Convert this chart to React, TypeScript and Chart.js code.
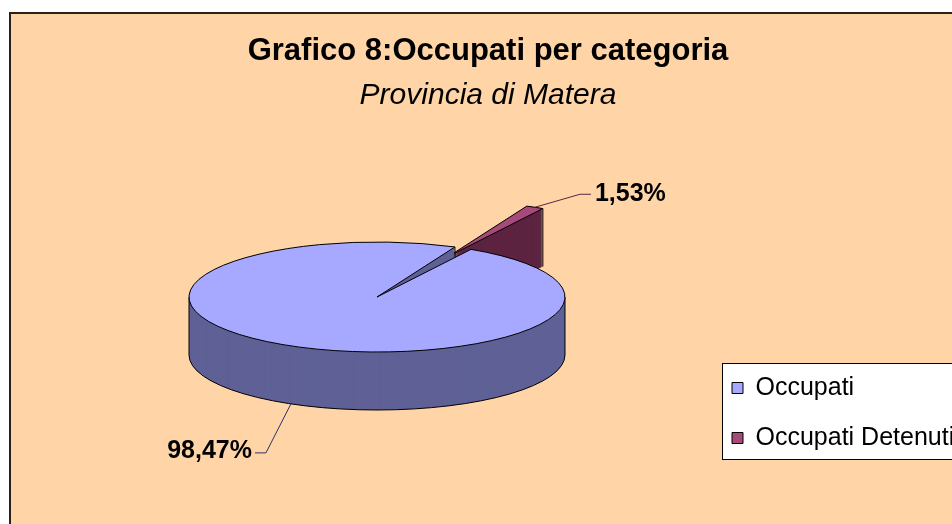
import React, { useEffect, useRef } from "react";
import { Chart, registerables } from "chart.js";

Chart.register(...registerables);

// ---- data ----
const categories = ["Occupati", "Occupati Detenuti"];
const values = [98.47, 1.53];
const topColors = ["#A6A9FF", "#A54A7B"];
const sideColors = ["#5F6196", "#5D2441"];
const leaderColors = ["#2E3163", "#5D2441"];
const chartTitle = "Grafico 8:Occupati per categoria";
const chartSubtitle = "Provincia di Matera";

// ---- style / layout ----
const FONT = "'Liberation Sans', Arial, Helvetica, sans-serif";
const PEACH = "#FFD5A8";
const FRAME = { x: 10, y: 13, color: "#2C2018", width: 2 };
const PIE = { cx: 377, cy: 297, rx: 188, ry: 55, depth: 58, rotation: 30 };
const EXPLODE = [0, 0.835];
const LABEL_LAYOUT = [
  { dx: -25, dy: 49, tail: -11, gap: 3, textDy: -2 },
  { dx: 45, dy: -13, tail: 11, gap: 4, textDy: 0 },
];
const LEGEND_BOX = { x: 722.5, y: 363.5, h: 96 };
const LEGEND_POS = { left: 707, top: 350.5 };

function geom(arc: any, i: number) {
  const p = arc.getProps(["x", "y", "startAngle", "endAngle", "outerRadius"], true);
  const mid = (p.startAngle + p.endAngle) / 2;
  const e = EXPLODE[i] || 0;
  const cx = PIE.cx + Math.cos(mid) * e * PIE.rx;
  const cy = PIE.cy + Math.sin(mid) * e * PIE.ry;
  return { ...p, mid, cx, cy };
}

function pt(g: any, a: number, dy = 0) {
  return [g.cx + Math.cos(a) * PIE.rx, g.cy + Math.sin(a) * PIE.ry + dy];
}

const pie3d = {
  id: "pie3d",
  beforeDraw(chart: any) {
    const ctx = chart.ctx;
    const W = chart.width;
    const H = chart.height;
    ctx.save();
    ctx.fillStyle = "#ffffff";
    ctx.fillRect(0, 0, W, H);
    ctx.fillStyle = PEACH;
    ctx.fillRect(FRAME.x, FRAME.y, W + 50, H + 50);
    ctx.strokeStyle = FRAME.color;
    ctx.lineWidth = FRAME.width;
    ctx.strokeRect(FRAME.x, FRAME.y, W + 50, H + 50);
    ctx.fillStyle = "#ffffff";
    ctx.fillRect(LEGEND_BOX.x, LEGEND_BOX.y, W, LEGEND_BOX.h);
    ctx.strokeStyle = "#000000";
    ctx.lineWidth = 1;
    ctx.strokeRect(LEGEND_BOX.x, LEGEND_BOX.y, W, LEGEND_BOX.h);
    ctx.restore();
    const lg = chart.legend;
    if (lg) {
      lg.left = LEGEND_POS.left;
      lg.top = LEGEND_POS.top;
      lg.right = W + 400;
      lg.bottom = H;
      lg.width = lg.right - lg.left;
      lg.height = lg.bottom - lg.top;
    }
  },
  beforeDatasetDraw(chart: any) {
    const ctx = chart.ctx;
    const arcs = chart.getDatasetMeta(0).data;
    const gs = arcs.map((a: any, i: number) => geom(a, i));
    const order = gs.map((_: any, i: number) => i).sort((a: number, b: number) => {
      const ya = gs[a].cy + Math.sin(gs[a].mid) * PIE.ry * 0.5;
      const yb = gs[b].cy + Math.sin(gs[b].mid) * PIE.ry * 0.5;
      return ya - yb;
    });
    for (const i of order) {
      const arc = arcs[i];
      const g = gs[i];
      const R = g.outerRadius || 1;
      const sx = PIE.rx / R;
      const sy = PIE.ry / R;
      const saved = arc.options;
      const paint = (color: string, dy: number) => {
        arc.options = Object.assign({}, saved, {
          backgroundColor: color,
          borderColor: color,
          borderWidth: 0,
          offset: 0,
          spacing: 0,
        });
        ctx.save();
        ctx.translate(g.cx, g.cy + dy);
        ctx.scale(sx, sy);
        ctx.translate(-g.x, -g.y);
        arc.draw(ctx);
        ctx.restore();
      };
      for (let d = PIE.depth; d >= 1; d--) paint(sideColors[i], d);

      // side outlines
      ctx.save();
      ctx.strokeStyle = "#000";
      ctx.lineWidth = 1;
      const s = g.startAngle;
      const e = g.endAngle;
      const TAU = Math.PI * 2;
      for (let k = -1; k <= 1; k++) {
        const a = Math.max(s, TAU * k);
        const b = Math.min(e, TAU * k + Math.PI);
        if (b > a) {
          ctx.beginPath();
          ctx.ellipse(g.cx, g.cy + PIE.depth, PIE.rx, PIE.ry, 0, a, b);
          ctx.stroke();
        }
      }
      const inArc = (ang: number) => {
        for (let k = -1; k <= 2; k++) {
          const v = ang + TAU * k;
          if (v >= s && v <= e) return true;
        }
        return false;
      };
      const vertical = (ang: number) => {
        const [x0, y0] = pt(g, ang);
        ctx.beginPath();
        ctx.moveTo(x0, y0);
        ctx.lineTo(x0, y0 + PIE.depth);
        ctx.stroke();
      };
      for (const ang of [0, Math.PI]) if (inArc(ang)) vertical(ang);
      if (Math.cos(s) < 0) vertical(s);
      if (Math.cos(e) > 0) vertical(e);
      ctx.restore();

      paint(topColors[i], 0);
      arc.options = saved;

      ctx.save();
      ctx.strokeStyle = "#000";
      ctx.lineWidth = 1;
      ctx.beginPath();
      ctx.moveTo(g.cx, g.cy);
      ctx.ellipse(g.cx, g.cy, PIE.rx, PIE.ry, 0, s, e);
      ctx.closePath();
      ctx.stroke();
      ctx.restore();
    }
    return false;
  },
  afterDatasetsDraw(chart: any) {
    const ctx = chart.ctx;
    const arcs = chart.getDatasetMeta(0).data;
    const data = chart.data.datasets[0].data as number[];
    const total = data.reduce((a: number, b: number) => a + b, 0);
    arcs.forEach((arc: any, i: number) => {
      const g = geom(arc, i);
      const lay = LABEL_LAYOUT[i];
      const front = Math.sin(g.mid) > 0;
      const [ax, ay] = pt(g, g.mid, front ? PIE.depth : 0);
      const ex = ax + lay.dx;
      const ey = ay + lay.dy;
      const tx = ex + lay.tail;
      ctx.save();
      ctx.strokeStyle = leaderColors[i];
      ctx.lineWidth = 1;
      ctx.beginPath();
      ctx.moveTo(ax, ay);
      ctx.lineTo(ex, ey);
      ctx.lineTo(tx, ey);
      ctx.stroke();
      const txt = ((data[i] / total) * 100).toFixed(2).replace(".", ",") + "%";
      ctx.fillStyle = "#000";
      ctx.font = `bold 25px ${FONT}`;
      ctx.textBaseline = "middle";
      ctx.textAlign = lay.tail < 0 ? "right" : "left";
      ctx.fillText(txt, tx + (lay.tail < 0 ? -lay.gap : lay.gap), ey + lay.textDy);
      ctx.restore();
    });
  },
};

export default function App() {
  const ref = useRef<HTMLCanvasElement | null>(null);
  useEffect(() => {
    if (!ref.current) return;
    const chart = new Chart(ref.current, {
      type: "pie",
      data: {
        labels: categories,
        datasets: [
          {
            data: values,
            backgroundColor: topColors,
            borderColor: "#000000",
            borderWidth: 1,
          },
        ],
      },
      options: {
        animation: false,
        responsive: true,
        maintainAspectRatio: false,
        events: [],
        rotation: PIE.rotation,
        layout: { padding: { left: 24, top: 0, right: 0, bottom: 0 } },
        plugins: {
          tooltip: { enabled: false },
          title: {
            display: true,
            text: chartTitle,
            color: "#000",
            font: { family: FONT, size: 31, weight: "bold", lineHeight: 1 },
            padding: { top: 36, bottom: 0 },
          },
          subtitle: {
            display: true,
            text: chartSubtitle,
            color: "#000",
            font: { family: FONT, size: 30, style: "italic", lineHeight: 1 },
            padding: { top: 14, bottom: 0 },
          },
          legend: {
            display: true,
            position: "right",
            align: "start",
            labels: {
              color: "#000",
              boxWidth: 11,
              boxHeight: 11,
              padding: 25,
              font: { family: FONT, size: 25 },
            },
          },
        },
      } as any,
      plugins: [pie3d as any],
    });
    return () => chart.destroy();
  }, []);
  return (
    <div style={{ position: "absolute", left: 0, top: 0, width: 952, height: 524, overflow: "hidden" }}>
      <canvas ref={ref} />
    </div>
  );
}
